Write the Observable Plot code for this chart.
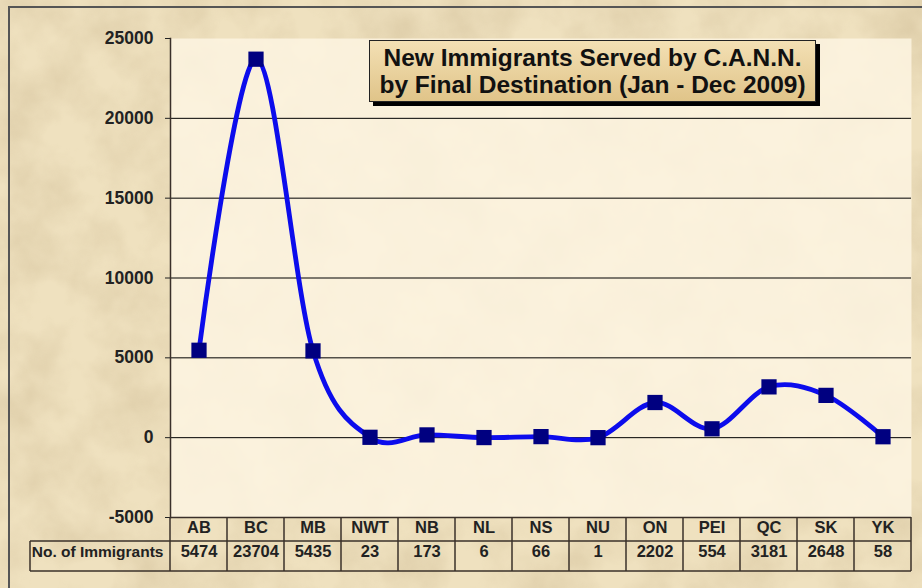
<!DOCTYPE html>
<html><head><meta charset="utf-8">
<script src="https://cdn.jsdelivr.net/npm/d3@7"></script>
<script src="https://cdn.jsdelivr.net/npm/@observablehq/plot@0.6"></script>
<style>
html,body{margin:0;padding:0;}
body{width:922px;height:588px;overflow:hidden;position:relative;font-family:Arial,"Liberation Sans",sans-serif;}
#bg{position:absolute;left:0;top:0;}
#border{position:absolute;left:8px;top:6px;width:940px;height:620px;border:2px solid #555;box-sizing:border-box;}
#chart{position:absolute;left:0;top:0;}
#chart svg{overflow:visible;}
#title{position:absolute;left:369px;top:40px;width:447px;height:62px;border:1.5px solid #222;box-shadow:4px 4px 0 #000;
  background:linear-gradient(#f3e0b4,#e0c489);font-weight:bold;font-size:24.5px;color:#111;text-align:center;line-height:27px;padding-top:3px;box-sizing:border-box;white-space:nowrap;}
</style></head>
<body>
<svg id="bg" width="922" height="588">
  <filter id="n"><feTurbulence type="fractalNoise" baseFrequency="0.018" numOctaves="4" seed="7"/>
    <feColorMatrix type="matrix" values="0 0 0 0 0.62  0 0 0 0 0.50  0 0 0 0 0.30  1.6 0 0 0 -0.55"/></filter>
  <rect width="922" height="588" fill="#efe1bf"/>
  <rect width="922" height="588" filter="url(#n)" opacity="0.55"/>
</svg>
<div id="border"></div>
<div id="chart"></div>
<div id="title"></div>
<script>
const categories = ["AB","BC","MB","NWT","NB","NL","NS","NU","ON","PEI","QC","SK","YK"];
const immigrants = [5474,23704,5435,23,173,6,66,1,2202,554,3181,2648,58];
const yTicks = [-5000,0,5000,10000,15000,20000,25000];
const gridTicks = [0,5000,10000,15000,20000];
const rowLabel = "No. of Immigrants";
const titleLines = ["New Immigrants Served by C.A.N.N.","by Final Destination (Jan - Dec 2009)"];

(function(){
const data = categories.map((c,i)=>({cat:c, value:immigrants[i]}));
const font = "Arial, 'Liberation Sans', sans-serif";

const chart = Plot.plot({
  width:922, height:588, marginLeft:170, marginRight:11, marginTop:38, marginBottom:71,
  style:{background:"transparent", fontFamily:font, overflow:"visible"},
  x:{type:"band", domain:categories, padding:0, label:null},
  y:{domain:[-5000,25000], label:null},
  marks:[
    Plot.frame({fill:"#fdf5e2", fillOpacity:0.85, stroke:null}),
    Plot.gridY({ticks:gridTicks, stroke:"#000", strokeOpacity:1, strokeWidth:1}),
    Plot.ruleY([-5000],{stroke:"#3a302a", strokeWidth:1.5}),
    Plot.frame({anchor:"left", stroke:"#3a302a", strokeWidth:1.5}),
    Plot.axisY({ticks:yTicks, tickSize:5, tickPadding:12, tickFormat:d=>String(d), fontSize:17.5, fontWeight:"bold", color:"#222", label:null}),
    Plot.axisX({tickSize:0, tickPadding:4, fontSize:16.5, fontWeight:"bold", color:"#222", label:null}),
    Plot.line(data,{x:"cat", y:"value", curve:"cardinal", tension:0, stroke:"#0c0cec", strokeWidth:4.8}),
    Plot.dot(data,{x:"cat", y:"value", symbol:"square", r:8.6, fill:"#000080", stroke:null}),
    Plot.text(data,{x:"cat", text:d=>String(d.value), frameAnchor:"bottom", dy:39, fontSize:16.5, fontWeight:"bold", fill:"#222"}),
    Plot.text([rowLabel],{frameAnchor:"bottom-left", text:d=>d, dy:39, dx:-7, textAnchor:"end", fontSize:15.5, fontWeight:"bold", fill:"#222"})
  ]
});
document.getElementById("chart").append(chart);

// table grid using the chart's own x and y scales
const xs = chart.scale("x"), ys = chart.scale("y");
const svg = d3.select(chart);
const xRight = xs.apply(categories[categories.length-1]) + xs.bandwidth;
const yTop = ys.apply(-5000);
const rowH = [24, 30];
const yMid = yTop + rowH[0], yBot = yMid + rowH[1];
const labelLeft = 30;
const g = svg.append("g").attr("stroke","#3a302a").attr("stroke-width",1.5);
g.append("line").attr("x1",labelLeft).attr("x2",xRight).attr("y1",yMid).attr("y2",yMid);
g.append("line").attr("x1",labelLeft).attr("x2",xRight).attr("y1",yBot).attr("y2",yBot);
g.append("line").attr("x1",labelLeft).attr("x2",labelLeft).attr("y1",yMid).attr("y2",yBot);
categories.forEach(c => {
  const x = xs.apply(c);
  g.append("line").attr("x1",x).attr("x2",x).attr("y1",yTop).attr("y2",yBot);
});
g.append("line").attr("x1",xRight).attr("x2",xRight).attr("y1",yTop).attr("y2",yBot);

document.getElementById("title").innerHTML = titleLines.map(s=>`<div>${s}</div>`).join("");
})();
</script>
</body></html>
